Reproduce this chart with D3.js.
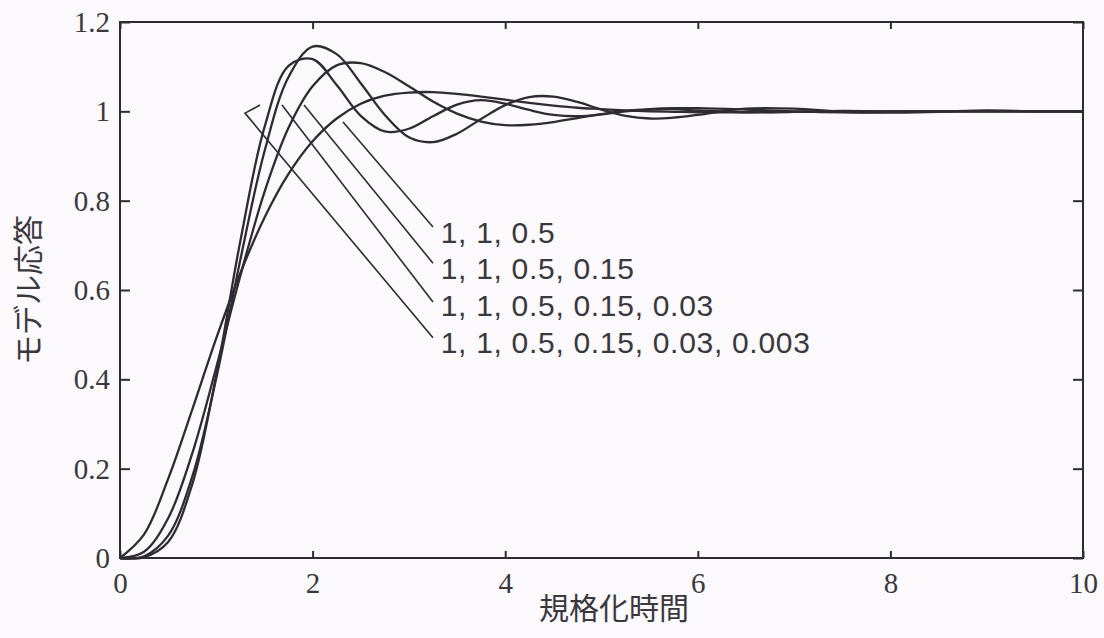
<!DOCTYPE html>
<html><head><meta charset="utf-8">
<script src="https://cdn.jsdelivr.net/npm/d3@7"></script>
<style>
body{margin:0;background:#fbf9fb;}
svg{display:block;}
</style>
</head><body>
<svg id="chart" width="1104" height="638"></svg>
<script>
// ---- data ----
const time = [0,0.25,0.5,0.75,1,1.25,1.5,1.75,2,2.25,2.5,2.75,3,3.25,3.5,3.75,4,4.25,4.5,4.75,5,5.25,5.5,5.75,6,6.5,7,7.5,8,8.5,9,9.5,10];
// model "1, 1, 0.5"
const resp2 = [0,0.053,0.177,0.332,0.492,0.638,0.762,0.860,0.933,0.984,1.017,1.035,1.042,1.043,1.039,1.033,1.026,1.019,1.013,1.008,1.005,1.002,1.000,0.999,0.998,0.998,0.999,0.999,1,1,1,1,1];
// model "1, 1, 0.5, 0.15"
const resp3 = [0,0.014,0.089,0.234,0.427,0.632,0.819,0.963,1.056,1.103,1.108,1.088,1.056,1.022,0.995,0.977,0.969,0.970,0.976,0.985,0.994,1.001,1.005,1.007,1.007,1.004,1.000,0.998,0.999,1,1,1,1];
// model "1, 1, 0.5, 0.15, 0.03"
const resp4 = [0,0.004,0.050,0.182,0.403,0.668,0.910,1.077,1.145,1.128,1.063,0.992,0.942,0.931,0.950,0.983,1.014,1.032,1.033,1.021,1.004,0.990,0.984,0.986,0.992,1.006,1.006,0.999,0.997,0.999,1.002,1.000,1.000];
// model "1, 1, 0.5, 0.15, 0.03, 0.003"
const resp5 = [0,0.002,0.036,0.165,0.410,0.710,0.964,1.102,1.117,1.059,0.990,0.955,0.961,0.989,1.015,1.025,1.017,1.003,0.992,0.989,0.993,1.000,1.004,1.005,1.002,0.998,0.999,1.001,1,1,1,1,1];

const seriesNames = ["1, 1, 0.5", "1, 1, 0.5, 0.15", "1, 1, 0.5, 0.15, 0.03", "1, 1, 0.5, 0.15, 0.03, 0.003"];
const xTicks = [0,2,4,6,8,10];
const xTickLabels = ["0","2","4","6","8","10"];
const yTicks = [0,0.2,0.4,0.6,0.8,1,1.2];
const yTickLabels = ["0","0.2","0.4","0.6","0.8","1","1.2"];
const xTitle = "規格化時間";
const yTitle = "モデル応答";

// annotation leader lines (data units), one per label
const leaderStartX = [2.316, 1.911, 1.682, 1.298];
const leaderStartY = [0.976, 1.014, 1.014, 0.996];
const hookX = 1.454, hookY = 1.014;      // small hook on the last leader
const leaderEndX = 3.25;
const leaderEndY = [0.741, 0.660, 0.573, 0.493];
const labelX = 3.33;
const labelY = [0.730, 0.649, 0.566, 0.483];

// ---- drawing ----
const svg = d3.select("#chart");
const m = {left:120, right:1083, top:22, bottom:558};
const x = d3.scaleLinear().domain([0,10]).range([m.left, m.right]);
const y = d3.scaleLinear().domain([0,1.2]).range([m.bottom, m.top]);

const ink = "#2e2c33";
const textInk = "#3a383d";

// frame
svg.append("rect")
  .attr("x", m.left).attr("y", m.top)
  .attr("width", m.right - m.left).attr("height", m.bottom - m.top)
  .attr("fill", "none").attr("stroke", ink).attr("stroke-width", 2);

// axes (inward ticks)
const gL = svg.append("g").attr("transform", `translate(${m.left},0)`)
  .call(d3.axisLeft(y).tickValues(yTicks).tickFormat((d,i)=>yTickLabels[i])
    .tickSizeInner(-10).tickSizeOuter(0).tickPadding(10));
const gR = svg.append("g").attr("transform", `translate(${m.right},0)`)
  .call(d3.axisRight(y).tickValues(yTicks).tickFormat("")
    .tickSizeInner(-10).tickSizeOuter(0));
const gB = svg.append("g").attr("transform", `translate(0,${m.bottom})`)
  .call(d3.axisBottom(x).tickValues(xTicks).tickFormat((d,i)=>xTickLabels[i])
    .tickSizeInner(-7).tickSizeOuter(0).tickPadding(14));
const gT = svg.append("g").attr("transform", `translate(0,${m.top})`)
  .call(d3.axisTop(x).tickValues(xTicks).tickFormat("")
    .tickSizeInner(-7).tickSizeOuter(0));

[gL,gR,gB,gT].forEach(g=>{
  g.select(".domain").remove();
  g.selectAll(".tick line").attr("stroke", ink).attr("stroke-width", 2);
  g.selectAll(".tick text")
    .attr("font-family", "'Liberation Serif','Times New Roman',serif")
    .attr("font-size", 29).attr("fill", textInk);
});
gL.selectAll(".tick text").attr("dy", "0.33em");

// curves
const line = d3.line()
  .x((d,i)=>x(time[i]))
  .y(d=>y(d))
  .curve(d3.curveCatmullRom.alpha(0.5));

[resp2, resp3, resp4, resp5].forEach(s=>{
  svg.append("path").datum(s)
    .attr("d", line)
    .attr("fill","none")
    .attr("stroke", ink)
    .attr("stroke-width", 2.3)
    .attr("stroke-linejoin","round");
});

// leader lines and labels
seriesNames.forEach((name,i)=>{
  const pts = [];
  if (i === 3) pts.push([hookX, hookY]);
  pts.push([leaderStartX[i], leaderStartY[i]]);
  pts.push([leaderEndX, leaderEndY[i]]);
  svg.append("path")
    .attr("d", d3.line().x(p=>x(p[0])).y(p=>y(p[1]))(pts))
    .attr("fill","none").attr("stroke", ink).attr("stroke-width", 1.6);
  svg.append("text")
    .attr("x", x(labelX)).attr("y", y(labelY[i]))
    .attr("dy","0.36em")
    .attr("font-family","'Liberation Sans',Arial,sans-serif")
    .attr("font-size", 30)
    .attr("letter-spacing", "0.7px")
    .attr("fill", textInk)
    .text(name);
});

// axis titles
svg.append("text")
  .attr("x", 614).attr("y", 608)
  .attr("text-anchor","middle").attr("dy","0.35em")
  .attr("font-family","'Noto Sans CJK JP',sans-serif")
  .attr("font-size", 30).attr("fill", textInk)
  .text(xTitle);
svg.append("text")
  .attr("transform", `translate(28,${(m.top+m.bottom)/2}) rotate(-90)`)
  .attr("text-anchor","middle").attr("dy","0.35em")
  .attr("font-family","'Noto Sans CJK JP',sans-serif")
  .attr("font-size", 30).attr("fill", textInk)
  .text(yTitle);
</script>
</body></html>
